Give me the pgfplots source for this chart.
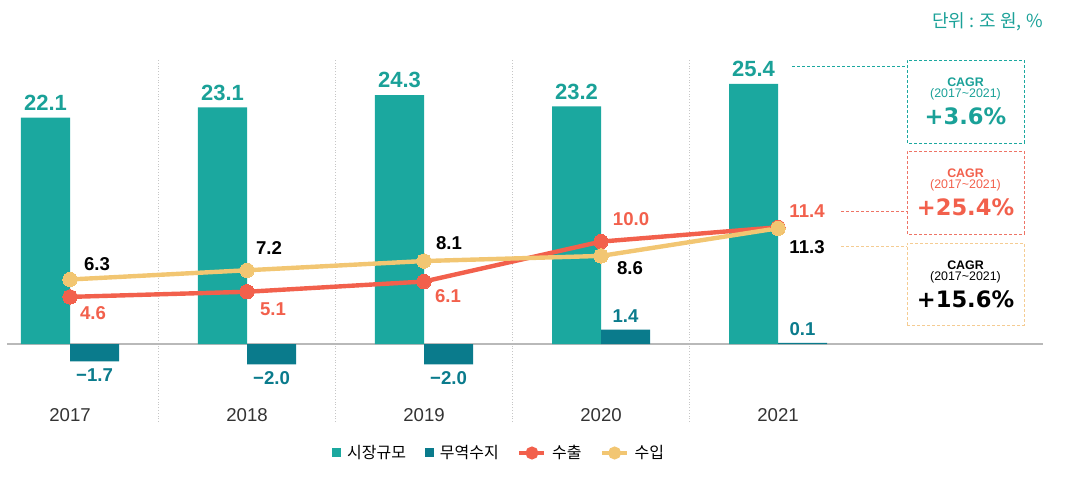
\documentclass[border=0pt]{standalone}
\usepackage{pgfplots}
\pgfplotsset{compat=1.18}
\usepackage{fontspec}
\setmainfont{Liberation Sans}
\newfontfamily\kr{Noto Sans CJK KR}
\newfontfamily\dvs{DejaVu Sans}
\definecolor{cTeal}{HTML}{1BA89F}
\definecolor{cTealT}{HTML}{1AA198}
\definecolor{cNavy}{HTML}{0A7B8C}
\definecolor{cRed}{HTML}{F2604C}
\definecolor{cYel}{HTML}{F2C672}
\definecolor{cYelB}{HTML}{F5CC92}
\definecolor{cRedB}{HTML}{EE7466}
\begin{document}
\begin{tikzpicture}
\useasboundingbox (0,0) rectangle (537pt,239.5pt);
\begin{axis}[
  at={(3.5pt,28.5pt)}, anchor=south west,
  scale only axis, width=518pt, height=181pt,
  xmin=-0.356, xmax=5.497, ymin=-7.617, ymax=27.73,
  axis line style={draw=none},
  tick style={draw=none},
  xtick={0,1,2,3,4}, xticklabels={2017,2018,2019,2020,2021},
  xticklabel style={anchor=center, yshift=3.5pt, font=\fontsize{9.3}{11}\selectfont, text=black!80},
  minor xtick={0.5,1.5,2.5,3.5}, xminorgrids,
  minor grid style={densely dotted, gray!45, line width=0.5pt},
  ytick={0}, yticklabels={}, ymajorgrids,
  major grid style={gray!55, line width=0.6pt},
  clip=false,
  legend columns=4,
  legend style={at={(axis description cs:0.476,-0.0856)}, anchor=center, draw=none, fill=none,
    font=\kr\fontsize{8}{9.5}\selectfont,
    /tikz/every odd column/.append style={column sep=1pt},
    /tikz/every even column/.append style={column sep=7.5pt}},
]
\addplot[ybar, bar width=0.277, bar shift=-0.1385, fill=cTeal, draw=none,
  nodes near coords, point meta=explicit symbolic,
  every node near coord/.append style={anchor=south, xshift=-12.26pt, font=\bfseries\fontsize{11}{13}\selectfont, text=cTealT},
  legend image code/.code={\fill[cTeal] (0pt,-2.25pt) rectangle (4.5pt,2.25pt);}]
  coordinates {(0,22.1)[22.1] (1,23.1)[23.1] (2,24.3)[24.3] (3,23.2)[23.2] (4,25.4)[25.4]};
\addlegendentry{시장규모}
\addplot[ybar, bar width=0.277, bar shift=0.1385, fill=cNavy, draw=none,
  nodes near coords, point meta=explicit symbolic,
  visualization depends on={value \thisrow{anc}\as\myanc},
  every node near coord/.append style={anchor=\myanc, xshift=12.26pt, font=\bfseries\fontsize{9.3}{11}\selectfont, text=cNavy},
  legend image code/.code={\fill[cNavy] (0pt,-2.25pt) rectangle (4.5pt,2.25pt);}]
  table[x=x, y=y, meta=lab] {
x y lab anc
0 -1.7 −1.7 90
1 -2.0 −2.0 90
2 -2.0 −2.0 90
3 1.4 1.4 270
4 0.1 0.1 270
};
\addlegendentry{무역수지}
\addplot[cRed, line width=2.2pt, mark=*, mark size=3.6pt,
  mark options={fill=cRed, draw=cRed, line width=0pt},
  nodes near coords, point meta=explicit symbolic,
  visualization depends on={value \thisrow{dx}\as\mydx},
  visualization depends on={value \thisrow{dy}\as\mydy},
  every node near coord/.append style={anchor=center, xshift=\mydx pt, yshift=\mydy pt,
    font=\bfseries\fontsize{9.3}{11}\selectfont, text=cRed},
  legend image code/.code={\draw[cRed, line width=1.6pt] (0pt,0pt) -- (12.5pt,0pt); \fill[cRed] (6.25pt,0pt) circle (2.1pt);}]
  table[x=x, y=y, meta=lab] {
x y lab dx dy
0 4.6 4.6 11.5 -8
1 5.1 5.1 13 -8.5
2 6.1 6.1 12 -7.5
3 10.0 10.0 15 11
4 11.4 11.4 14.5 8
};
\addlegendentry{수출}
\addplot[cYel, line width=2.2pt, mark=*, mark size=3.6pt,
  mark options={fill=cYel, draw=cYel, line width=0pt},
  nodes near coords, point meta=explicit symbolic,
  visualization depends on={value \thisrow{dx}\as\mydx},
  visualization depends on={value \thisrow{dy}\as\mydy},
  every node near coord/.append style={anchor=center, xshift=\mydx pt, yshift=\mydy pt,
    font=\bfseries\fontsize{9.3}{11}\selectfont, text=black},
  legend image code/.code={\draw[cYel, line width=1.6pt] (0pt,0pt) -- (12.5pt,0pt); \fill[cYel] (6.25pt,0pt) circle (2.1pt);}]
  table[x=x, y=y, meta=lab] {
x y lab dx dy
0 6.3 6.3 13.5 7.5
1 7.2 7.2 11 11
2 8.1 8.1 12.5 9
3 8.6 8.6 14.5 -6
4 11.3 11.3 14.5 -9.5
};
\addlegendentry{수입}
\end{axis}
% unit
\node[anchor=east, text=cTealT, font=\kr\fontsize{9}{11}\selectfont, inner sep=0pt] at (521.5pt,228.5pt) {단위 : 조 원, \%};
% connectors
\draw[cTeal, line width=0.4pt, dash pattern=on 1.5pt off 1pt] (396pt,206.5pt) -- (453.5pt,206.5pt);
\draw[cRedB, line width=0.4pt, dash pattern=on 1.5pt off 1pt] (420.5pt,134pt) -- (453.5pt,134pt);
\draw[cYelB, line width=0.4pt, dash pattern=on 1.5pt off 1pt] (420.5pt,116.5pt) -- (453.5pt,116.5pt);
% boxes
\draw[cTeal, line width=0.45pt, dash pattern=on 1.5pt off 1pt] (453.5pt,168pt) rectangle (512pt,209.5pt);
\draw[cRedB, line width=0.45pt, dash pattern=on 1.5pt off 1pt] (453.5pt,122.5pt) rectangle (512pt,164pt);
\draw[cYelB, line width=0.45pt, dash pattern=on 1.5pt off 1pt] (453.5pt,77pt) rectangle (512pt,118pt);
% box texts
\node[text=cTealT, font=\bfseries\fontsize{6.2}{7}\selectfont, inner sep=0pt] at (482.75pt,198.5pt) {CAGR};
\node[text=cTealT, font=\fontsize{6.2}{7}\selectfont, inner sep=0pt] at (482.75pt,192.5pt) {(2017\textasciitilde 2021)};
\node[text=cTealT, font=\dvs\bfseries\fontsize{11.3}{13}\selectfont, inner sep=0pt] at (482.75pt,181.5pt) {+3.6\%};
\node[text=cRed, font=\bfseries\fontsize{6.2}{7}\selectfont, inner sep=0pt] at (482.75pt,153pt) {CAGR};
\node[text=cRed, font=\fontsize{6.2}{7}\selectfont, inner sep=0pt] at (482.75pt,147pt) {(2017\textasciitilde 2021)};
\node[text=cRed, font=\dvs\bfseries\fontsize{11.3}{13}\selectfont, inner sep=0pt] at (482.75pt,136pt) {+25.4\%};
\node[text=black, font=\bfseries\fontsize{6.2}{7}\selectfont, inner sep=0pt] at (482.75pt,107pt) {CAGR};
\node[text=black, font=\fontsize{6.2}{7}\selectfont, inner sep=0pt] at (482.75pt,101pt) {(2017\textasciitilde 2021)};
\node[text=black, font=\dvs\bfseries\fontsize{11.3}{13}\selectfont, inner sep=0pt] at (482.75pt,90pt) {+15.6\%};
\end{tikzpicture}
\end{document}
